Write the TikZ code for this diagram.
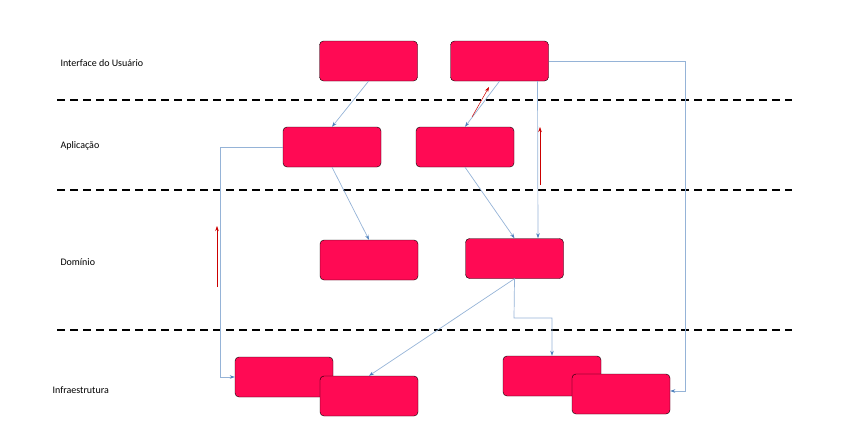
\documentclass[tikz,border=0pt]{standalone}
\usepackage{fontspec}
\setmainfont{Carlito}
\usetikzlibrary{arrows.meta}
\definecolor{boxred}{HTML}{FF0A54}
\definecolor{linkblue}{HTML}{95B3D7}
\definecolor{tipblue}{HTML}{4F81BD}
\begin{document}
\begin{tikzpicture}[x=1pt,y=-1pt,
  box/.style={draw=black,fill=boxred,rounded corners=4pt,minimum width=98pt,minimum height=40pt,inner sep=0pt},
  link/.style={draw=linkblue,line width=0.7pt,-{Stealth[length=5pt,width=3.5pt,color=tipblue]}},
  redarrow/.style={draw=red!80!black,line width=0.5pt,-{Stealth[length=5pt,width=3.5pt]}},
  sep/.style={draw=black,line width=1.6pt,dash pattern=on 8pt off 5pt},
  lab/.style={anchor=west,font=\fontsize{10}{12}\selectfont}]
\useasboundingbox (0,0) rectangle (851,447);
\node[box] (ui1) at (368.5,61) {};
\node[box] (ui2) at (499.5,61) {};
\node[box] (ap1) at (332,147) {};
\node[box] (ap2) at (465,147) {};
\node[box] (do1) at (369,260) {};
\node[box] (do2) at (514.5,258.5) {};
\node[box] (in1) at (284,377) {};
\node[box] (in2) at (369,396) {};
\node[box] (in3) at (552,376) {};
\node[box] (in4) at (621,394) {};
\node[lab] (l1) at (57,63) {Interface do Usuário};
\node[lab] (l2) at (57,146) {Aplicação};
\node[lab] (l3) at (57,262) {Domínio};
\node[lab] (l4) at (49,390) {Infraestrutura};
\coordinate (d1a) at (57,100); \coordinate (d1b) at (792,100);
\coordinate (d2a) at (57,190); \coordinate (d2b) at (792,190);
\coordinate (d3a) at (57,330); \coordinate (d3b) at (792,330);
\draw[sep] (d1a) -- (d1b);
\draw[sep] (d2a) -- (d2b);
\draw[sep] (d3a) -- (d3b);
\draw[link] (ui1.south) -- (ap1.north);
\draw[link] (ui2.south) -- (ap2.north);
\draw[link] ([xshift=38pt]ui2.south) -- ([xshift=23.5pt]do2.north);
\draw[link] (ui2.east) -- (685,61) |- ([yshift=3pt]in4.east);
\draw[link] (ap1.west) -- (220,147) |- (in1.west);
\draw[link] (ap1.south) -- (do1.north);
\draw[link] (ap2.south) -- (do2.north);
\draw[link] (do2.south) -- (in2.north);
\draw[link] (do2.south) -- (514,318) -| (in3.north);
\coordinate (r1a) at (472,117); \coordinate (r1b) at (489,87);
\coordinate (r2a) at (540,185); \coordinate (r2b) at (540,127);
\coordinate (r3a) at (217,287); \coordinate (r3b) at (217,226);
\draw[redarrow] (r1a) -- (r1b);
\draw[redarrow] (r2a) -- (r2b);
\draw[redarrow] (r3a) -- (r3b);
\end{tikzpicture}
\end{document}
